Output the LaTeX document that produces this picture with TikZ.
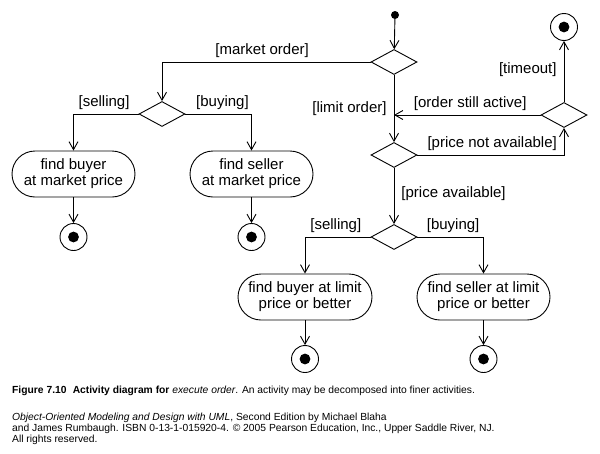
\documentclass[tikz,border=0pt]{standalone}
\usepackage{fontspec}
\setmainfont{Liberation Sans}
\usetikzlibrary{shapes.geometric,arrows.meta}

\begin{document}
\begin{tikzpicture}[x=1pt,y=-1pt]
    \tikzstyle{lien}=[->,>={Straight Barb[length=8pt,width=9pt]},line width=0.9pt]
    \tikzstyle{garde}=[font=\fontsize{15}{16}\selectfont,inner xsep=7pt,inner ysep=4pt]
    \tikzstyle{legende}=[font=\fontsize{10.3}{11}\selectfont,inner sep=0pt,anchor=west]
\tikzset{activite/.style={draw,line width=0.9pt,rounded corners=23pt,minimum height=46pt,minimum width=#1,
  align=center,inner sep=0pt,font=\fontsize{15}{16}\selectfont},
activite/.default={123pt},
choix/.style={draw,line width=0.9pt,diamond,minimum width=46pt,minimum height=25pt,inner sep=0pt},
debut/.style={fill,circle,minimum size=8pt,inner sep=0pt},
fin/.style={draw,line width=0.9pt,circle,minimum size=27pt,inner sep=0pt,
  path picture={\fill (path picture bounding box.center) circle (5.4pt);}}}
\useasboundingbox (0,0) rectangle (600,453);

\node[debut] (S) at (395,15){};
\node[choix] (D1) at (394,62){};
\node[choix] (D2) at (162,114){};
\node[activite] (A1) at (73.5,174){find buyer\\at market price};
\node[activite] (A2) at (251.5,174){find seller\\at market price};
\node[fin] (F1) at (73.5,237){};
\node[fin] (F2) at (251.5,237){};

\node[choix] (D3) at (394,155){};
\node[choix] (D4) at (564,115){};
\node[fin] (F3) at (564,27){};
\node[choix] (D5) at (394,237){};
\node[activite=134pt] (A3) at (305,297){find buyer at limit\\price or better};
\node[activite=133pt] (A4) at (483.5,297){find seller at limit\\price or better};
\node[fin] (F4) at (305,359){};
\node[fin] (F5) at (483.5,359){};

\draw[lien] (S) -- (D1);
\draw[lien] (D1.west) -| node[garde,pos=0.26,above] (gMarche){[market order]} (D2.north);
\draw[lien] (D2.west) -| node[garde,pos=0.265,above] (gVente1){[selling]} (A1.north);
\draw[lien] (D2.east) -| node[garde,pos=0.28,above] (gAchat1){[buying]} (A2.north);
\draw[lien] (A1) -- (F1);
\draw[lien] (A2) -- (F2);

\draw[lien] (D1) -- node[garde,left] (gLimite){[limit order]} (D3);
\coordinate (R) at (D4.west -| D1.south);
\draw[lien] (D4.west) -- node[garde,pos=0.48,above] (gActif){[order still active]} (R);
\draw[lien] (D3.east) -| node[garde,pos=0.255,above] (gPasDispo){[price not available]} (D4.south);
\draw[lien] (D4) -- node[garde,pos=0.53,left] (gDelai){[timeout]} (F3);
\draw[lien] (D3) -- node[garde,pos=0.46,right] (gDispo){[price available]} (D5);

\draw[lien] (D5.west) -| node[garde,pos=0.265,above] (gVente2){[selling]} (A3.north);
\draw[lien] (D5.east) -| node[garde,pos=0.27,above] (gAchat2){[buying]} (A4.north);
\draw[lien] (A3) -- (F4);
\draw[lien] (A4) -- (F5);

% legende
\node[legende] (titre) at (12,391){\textbf{Figure 7.10\hspace{0.6em}Activity diagram for} \textit{execute order}. An activity may be decomposed into finer activities.};
\node[legende] (ref1) at (12,418){\textit{Object-Oriented Modeling and Design with UML}, Second Edition by Michael Blaha};
\node[legende] (ref2) at (12,429){and James Rumbaugh. ISBN 0-13-1-015920-4. © 2005 Pearson Education, Inc., Upper Saddle River, NJ.};
\node[legende] (ref3) at (12,440){All rights reserved.};

  \end{tikzpicture}
\end{document}
